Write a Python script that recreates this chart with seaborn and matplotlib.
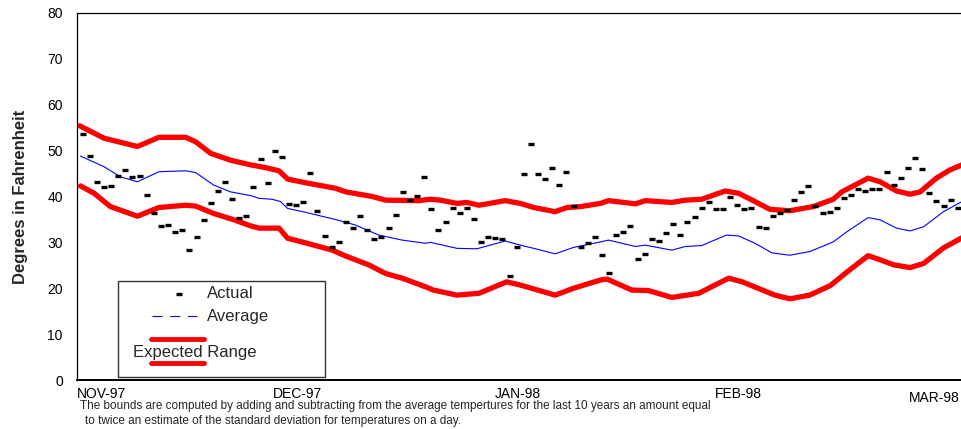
import pandas as pd
import seaborn as sns
import matplotlib.pyplot as plt
from matplotlib.patches import Rectangle
from matplotlib.lines import Line2D
from matplotlib.transforms import ScaledTranslation

# daily observed temperatures, day 1 = 1 Nov 1997
actual_day = list(range(1, 126))
actual_temp = [53.6, 48.8, 43.2, 42.1, 42.2, 44.5, 45.8, 44.2, 44.5, 40.3,
               36.5, 33.6, 33.7, 32.3, 32.7, 28.3, 31.2, 34.9, 38.5, 41.3,
               43.1, 39.4, 35.3, 35.7, 42.1, 48.2, 42.9, 49.9, 48.7, 38.3,
               38.1, 38.8, 45.2, 36.8, 31.3, 28.9, 30.1, 34.5, 33.1, 35.7,
               32.8, 30.7, 31.2, 33.1, 36.0, 41.0, 39.2, 40.2, 44.3, 37.3,
               32.8, 34.5, 37.6, 36.3, 37.6, 35.0, 30.0, 31.1, 30.9, 30.7,
               22.7, 29.1, 44.8, 51.4, 45.0, 43.8, 46.2, 42.4, 45.4, 38.0,
               29.0, 29.9, 31.2, 27.2, 23.3, 31.5, 32.2, 33.6, 26.4, 27.5,
               30.7, 30.4, 32.0, 34.0, 31.5, 34.4, 35.5, 37.4, 38.9, 37.2,
               37.2, 39.8, 38.1, 37.3, 37.6, 33.3, 33.1, 35.7, 36.3, 37.0,
               39.3, 41.0, 42.2, 37.9, 36.3, 36.6, 37.6, 39.7, 40.3, 41.6,
               41.2, 41.6, 41.6, 45.3, 42.5, 44.0, 46.3, 48.4, 46.0, 40.7,
               39.0, 38.0, 39.2, 37.4, 36.3]

# upper bound of expected range
upper_day = [0.6, 4.0, 8.7, 11.7, 15.5, 16.9, 19.0, 21.8, 24.6, 26.7, 28.6, 29.8,
             32.3, 36.5, 38.0, 41.7, 43.6, 48.2, 49.9, 51.3, 53.6, 55.0, 56.7,
             60.4, 62.5, 64.4, 67.4, 69.1, 71.0, 73.8, 74.9, 78.7, 80.1, 83.8,
             85.7, 88.0, 91.3, 93.2, 95.5, 97.6, 100.4, 103.7, 106.5, 107.7,
             109.3, 111.4, 113.1, 115.4, 117.3, 118.7, 121.0, 122.9, 124.6]
upper_temp = [55.4, 52.7, 50.9, 52.9, 52.9, 51.9, 49.4, 47.9, 46.9, 46.3, 45.6, 43.8,
              43.0, 41.8, 41.0, 40.0, 39.2, 39.1, 39.4, 39.2, 38.5, 38.7, 38.1,
              39.1, 38.5, 37.6, 36.7, 37.6, 37.8, 38.5, 39.1, 38.4, 39.1, 38.7,
              39.2, 39.4, 41.2, 40.7, 38.9, 37.2, 36.9, 37.8, 39.4, 41.0,
              42.3, 44.0, 43.2, 41.2, 40.5, 41.0, 44.0, 45.8, 46.9]

# 10 year average
avg_day = [0.7, 4.0, 6.3, 8.7, 11.7, 15.5, 16.9, 19.4, 21.8, 24.6, 25.8, 27.6,
           28.8, 29.8, 31.9, 36.5, 39.3, 42.6, 45.9, 49.2, 49.9, 53.6, 56.4,
           60.4, 62.5, 64.4, 67.4, 70.0, 73.8, 74.9, 78.7, 80.1, 83.8, 85.7,
           88.0, 91.5, 93.2, 95.5, 97.9, 100.4, 103.2, 106.5, 108.4, 111.4,
           113.1, 115.4, 117.3, 119.2, 122.0, 124.6]
avg_temp = [48.8, 46.5, 44.3, 43.2, 45.4, 45.6, 45.2, 42.5, 41.0, 40.2, 39.6, 39.4,
            38.9, 37.4, 36.7, 35.0, 33.8, 31.6, 30.5, 29.8, 30.0, 28.7, 28.6,
            30.3, 29.4, 28.7, 27.5, 28.9, 30.1, 30.5, 29.1, 29.4, 28.3, 29.1,
            29.3, 31.6, 31.4, 29.8, 27.7, 27.2, 28.0, 30.1, 32.3, 35.4,
            34.9, 33.1, 32.5, 33.4, 36.7, 38.9]

# lower bound of expected range
lower_day = [0.7, 2.6, 4.9, 8.7, 11.7, 15.5, 16.9, 19.4, 22.3, 24.6, 25.8, 28.6,
             29.8, 32.3, 36.1, 38.0, 41.2, 43.6, 45.9, 49.2, 50.3, 53.6, 56.7,
             60.6, 62.5, 67.4, 70.0, 73.8, 74.7, 78.2, 80.5, 83.8, 87.6, 91.8,
             93.7, 98.3, 100.4, 103.2, 106.1, 108.4, 111.4, 113.1, 115.0,
             117.3, 119.2, 122.0, 124.6]
lower_temp = [42.3, 40.7, 37.8, 35.7, 37.6, 38.1, 37.9, 36.3, 34.9, 33.6, 33.1, 33.1,
              30.9, 29.9, 28.3, 27.0, 25.1, 23.2, 22.2, 20.3, 19.6, 18.5, 18.9,
              21.4, 20.7, 18.5, 20.0, 21.8, 22.0, 19.6, 19.5, 18.0, 18.9, 22.2,
              21.4, 18.5, 17.7, 18.5, 20.6, 23.5, 27.1, 26.2, 25.1,
              24.5, 25.4, 28.8, 31.0]

month_ticks = [0.2, 31.2, 62.2, 93.2, 124.2]
month_labels = ["NOV-97", "DEC-97", "JAN-98", "FEB-98", "MAR-98"]

sns.set_style("white")
plt.rcParams['font.family'] = ['Liberation Sans', 'DejaVu Sans']

W, H = 962, 429
fig = plt.figure(figsize=(W / 100, H / 100), dpi=100)
ax = fig.add_axes([77 / W, 1 - 380 / H, 885 / W, 367 / H])

sns.lineplot(x=upper_day, y=upper_temp, color="#ff0000", linewidth=3.8,
             solid_capstyle="round", ax=ax)
sns.lineplot(x=lower_day, y=lower_temp, color="#ff0000", linewidth=3.8,
             solid_capstyle="round", ax=ax)
sns.lineplot(x=avg_day, y=avg_temp, color="#0000ff", linewidth=0.8, ax=ax)
sns.scatterplot(x=actual_day, y=actual_temp, marker="_", s=22, linewidth=2.4,
                color="black", zorder=5, ax=ax)

ax.set_xlim(0.2, 124.6)
ax.set_ylim(0, 80)
ax.set_yticks(range(0, 81, 10))
ax.set_xticks(month_ticks)
ax.set_xticklabels(month_labels)
ax.tick_params(axis="y", direction="inout", length=8.5, width=0.8, pad=6,
               labelsize=10, colors="black")
ax.tick_params(axis="x", direction="inout", length=6, width=0.8, pad=2,
               labelsize=10, colors="black")
for side in ["left", "top"]:
    ax.spines[side].set_color("black")
    ax.spines[side].set_linewidth(0.9)
ax.spines["bottom"].set_color("black")
ax.spines["bottom"].set_linewidth(1.4)
ax.spines["right"].set_visible(False)
ax.set_xlabel("")
ax.set_ylabel("Degrees in Fahrenheit", fontsize=12, fontweight="bold", labelpad=14)

lbls = ax.get_xticklabels()
lbls[0].set_ha("left")
lbls[-1].set_ha("right")
lbls[-1].set_transform(lbls[-1].get_transform() +
                       ScaledTranslation(0, -3 / 72, fig.dpi_scale_trans))


def fp(x, y):
    return x / W, 1 - y / H


# legend box
fig.add_artist(Rectangle(fp(118, 377), 207 / W, 96 / H, transform=fig.transFigure,
                         facecolor="white", edgecolor="#333333", linewidth=1))
fig.add_artist(Line2D(*zip(fp(179, 294)), marker="_", markersize=4.5, mew=2.4,
                      color="black", transform=fig.transFigure))
fig.text(*fp(207, 294), "Actual", fontsize=12, va="center")
fig.add_artist(Line2D(*zip(fp(152, 316), fp(197, 316)), color="#0000ff",
                      linewidth=0.8, linestyle=(0, (9, 7)), transform=fig.transFigure))
fig.text(*fp(207, 316), "Average", fontsize=12, va="center")
fig.add_artist(Line2D(*zip(fp(151, 339), fp(204, 339)), color="#ff0000",
                      linewidth=3.5, solid_capstyle="round", transform=fig.transFigure))
fig.text(*fp(133, 352), "Expected Range", fontsize=12, va="center")
fig.add_artist(Line2D(*zip(fp(151, 363), fp(204, 363)), color="#ff0000",
                      linewidth=3.5, solid_capstyle="round", transform=fig.transFigure))

# footnote
fig.text(*fp(80, 406), "The bounds are computed by adding and subtracting from the average "
         "tempertures for the last 10 years an amount equal", fontsize=8.5, va="center")
fig.text(*fp(85, 421), "to twice an estimate of the standard deviation for temperatures on a day.",
         fontsize=8.5, va="center")

fig.savefig("out.png", dpi=100)
